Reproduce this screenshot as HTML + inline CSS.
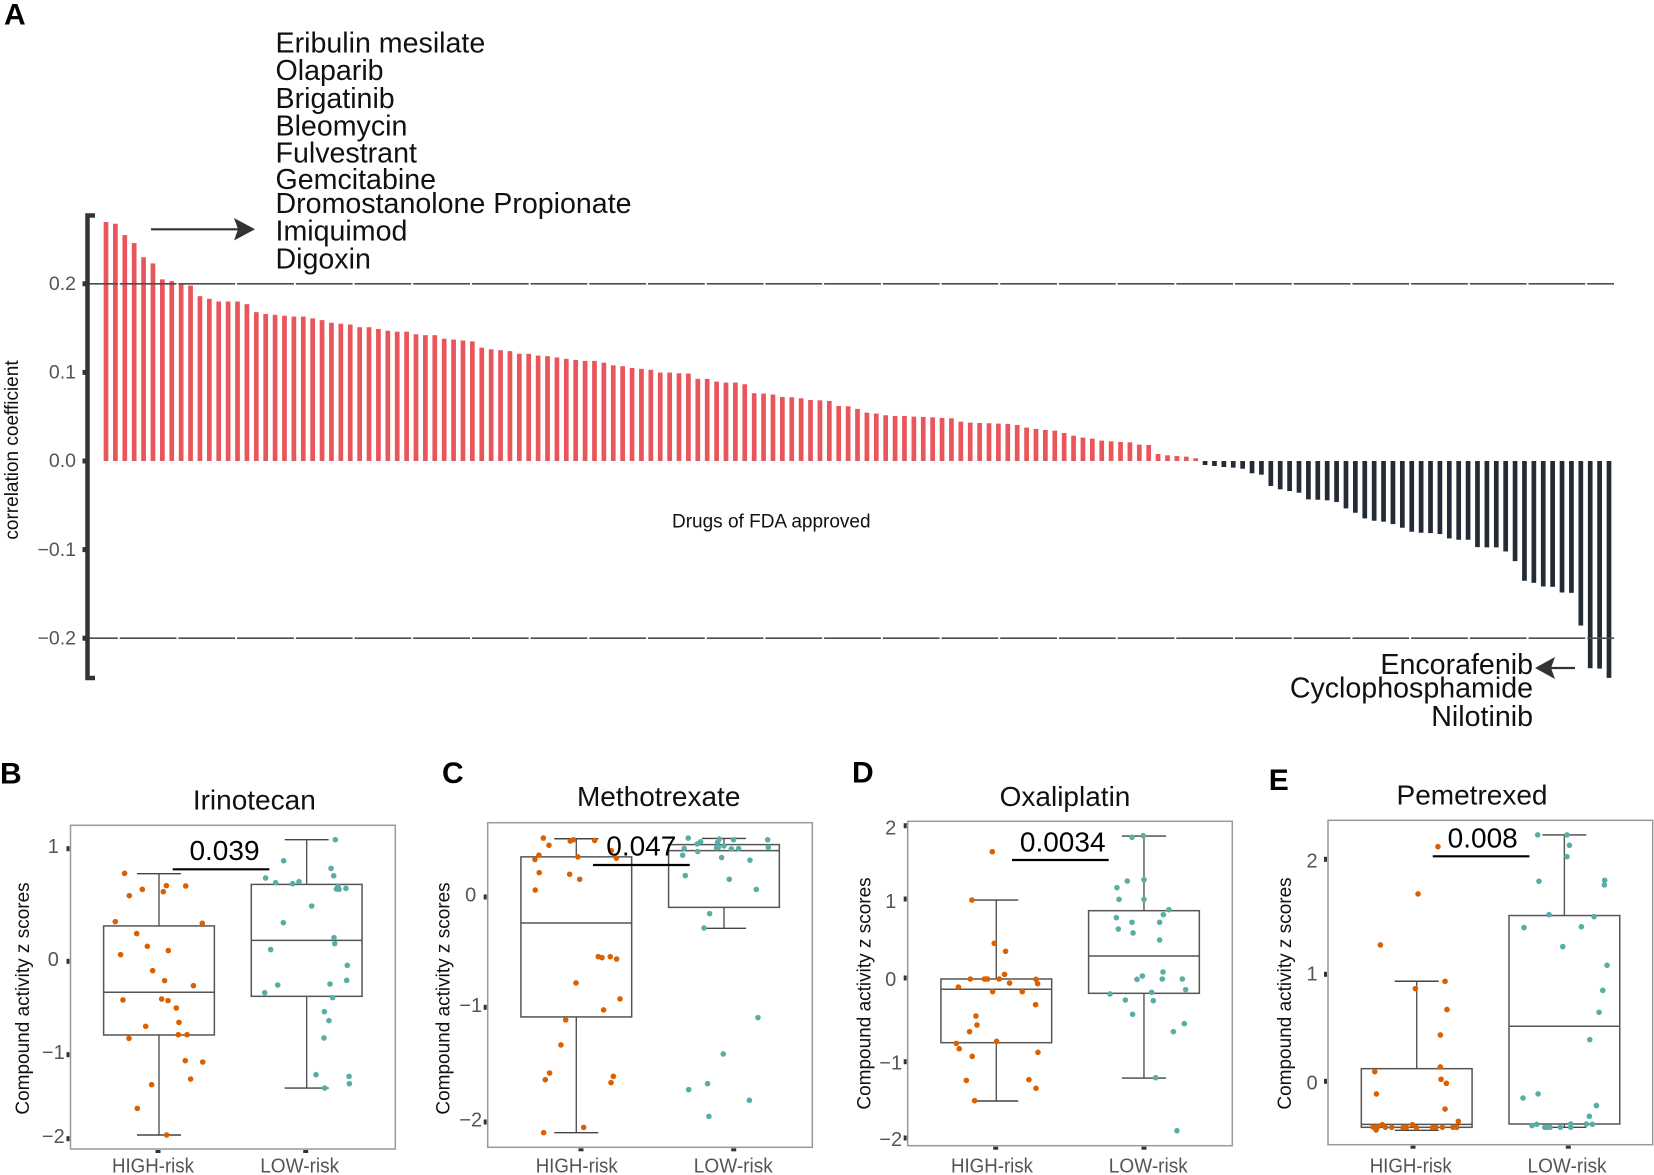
<!DOCTYPE html>
<html lang="en">
<head>
<meta charset="utf-8">
<title>Drug correlation and compound activity</title>
<style>
html,body{margin:0;padding:0;background:#fff;width:1654px;height:1175px;overflow:hidden}
svg{display:block;font-family:"Liberation Sans",sans-serif}
</style>
</head>
<body>
<svg id="figure" xmlns="http://www.w3.org/2000/svg" width="1654" height="1175" viewBox="0 0 1654 1175"></svg>
<script>
// ---------- Panel A data ----------
const positiveCorrelations = [.2697,.2678,.255,.246,.23,.223,.205,.203,.2,.198,.186,.183,.18,.18,.18,.177,.168,.166,.165,.164,.163,.163,.161,.159,.156,.155,.154,.151,.151,.149,.147,.146,.146,.143,.142,.142,.138,.137,.136,.135,.128,.126,.125,.124,.121,.121,.119,
.1183,.1168,.1153,.1141,.113,.113,.111,.108,.107,.105,.104,.103,.0998,.0998,.099,.0987,.0927,.0927,.0896,.0885,.0885,.0866,.0765,.0761,.075,.0723,.0719,.0708,.0689,.0685,.0678,.0621,.0618,.0588,.0546,.0535,.0516,.0508,.0508,.0501,.0497,.0493,.0486,.0482,.0444,.0433,.0429,.0426,.0422,.0418,.0407,.0377,.0362,.035,.0343,.0316,.0286,.0264,.0252,
.023,.0222,.0215,.0211,.0185,.0181,.0079,.0064,.0056,.0049,.003];
const negativeCorrelations = [-.0045,-.0056,-.0068,-.0075,-.0087,-.0139,-.0154,-.0282,-.032,-.0339,-.0358,-.0433,-.0437,-.0444,-.0463,-.0535,-.0584,-.0648,-.0674,-.0685,-.0712,-.0753,-.0798,-.081,-.0814,-.0825,-.0874,-.0889,-.0889,-.0972,-.0975,-.0975,-.1021,-.113,-.1352,-.1375,-.1416,-.142,-.1484,-.1488,-.1857,-.2339,-.2343,-.2448];
const correlationTicks = [0.2, 0.1, 0, -0.1, -0.2];
const referenceLevels = [0.2, -0.2];
const sensitiveDrugs = ["Eribulin mesilate","Olaparib","Brigatinib","Bleomycin","Fulvestrant","Gemcitabine","Dromostanolone Propionate","Imiquimod","Digoxin"];
const resistantDrugs = ["Encorafenib","Cyclophosphamide","Nilotinib"];

// ---------- Panels B-E data ----------
const riskGroups = ["HIGH-risk","LOW-risk"];

const irinotecanTicks = [1,0,-1,-2];
const irinotecanHighBox = [.778,.314,-.332,-.789,-1.956];
const irinotecanLowBox = [1.08,.683,.186,-.375,-1.397];
const irinotecanHighJitter = [-.233,.05,-.113,.181,-.201,.029,-.296,.293,-.151,-.079,.063,-.26,-.043,.038,.233,-.244,.018,.061,.117,.135,-.09,.131,.19,-.203,.178,.296,-.05,.214,-.147,.052];
const irinotecanHighScores = [.781,.672,.639,.669,.583,.618,.352,.337,.246,.133,.095,.059,-.1,-.207,-.261,-.414,-.404,-.421,-.5,-.654,-.696,-.786,-.786,-.825,-1.071,-1.087,-1.357,-1.29,-1.639,-1.956];
const irinotecanLowJitter = [.194,-.156,.165,.183,-.278,-.21,-.095,-.052,.212,.201,.219,.266,.034,-.158,.185,.19,-.244,.275,.271,.158,-.196,-.284,.176,.12,.151,.117,.063,.287,.289,.122];
const irinotecanLowScores = [1.08,.893,.825,.76,.74,.698,.689,.707,.663,.642,.639,.648,.491,.343,.21,.157,.104,-.043,-.204,-.243,-.254,-.336,-.389,-.539,-.636,-.821,-1.238,-1.258,-1.345,-1.397];

const methotrexateTicks = [0,-1,-2];
const methotrexateHighBox = [.528,.364,-.236,-1.084,-2.093];
const methotrexateLowBox = [.531,.475,.421,-.094,-.284];
const methotrexateHighJitter = [-.223,-.185,-.041,-.02,.124,-.253,-.28,.237,.271,.011,-.251,-.045,.023,-.278,.149,.174,.23,.273,-.002,.296,.185,-.072,-.104,-.181,-.21,.251,.235,.05,-.221];
const methotrexateHighScores = [.534,.469,.507,.519,.513,.379,.34,.421,.352,.364,.221,.206,.161,.063,-.541,-.55,-.541,-.562,-.779,-.924,-1.023,-1.11,-1.328,-1.573,-1.631,-1.602,-1.657,-2.047,-2.093];
const methotrexateLowJitter = [-.242,-.158,-.181,-.032,-.043,.065,.296,-.269,-.178,-.05,-.038,0,.05,.099,.3,-.28,-.016,.176,-.262,.036,.219,-.097,-.135,.23,-.005,-.111,-.239,.172,-.102];
const methotrexateLowScores = [.534,.501,.481,.525,.496,.519,.519,.439,.412,.445,.451,.463,.436,.439,.451,.379,.358,.334,.194,.161,.069,-.151,-.281,-1.09,-1.407,-1.666,-1.718,-1.811,-1.951];

const oxaliplatinTicks = [2,1,0,-1,-2];
const oxaliplatinHighBox = [.987,-.012,-.135,-.773,-1.515];
const oxaliplatinLowBox = [1.859,.852,.278,-.183,-1.214];
const oxaliplatinHighJitter = [-.027,-.165,-.014,.063,.056,-.176,-.081,-.07,-.059,.02,.269,.09,.28,-.257,-.025,.176,.266,-.138,-.131,-.181,.002,-.271,-.251,.282,-.163,-.203,.221,.269,-.147];
const oxaliplatinHighScores = [1.645,.987,.439,.338,.046,-.012,-.012,-.012,-.012,-.012,-.016,-.06,-.068,-.108,-.163,-.163,-.319,-.454,-.562,-.641,-.757,-.781,-.845,-.888,-.936,-1.245,-1.236,-1.349,-1.511];
const oxaliplatinLowJitter = [-.081,-.005,-.113,0,-.183,-.169,0,.169,.131,-.187,-.081,.106,-.174,-.074,.106,.129,-.011,-.047,.124,.26,.282,-.23,.052,-.126,.063,-.077,.273,.199,.079,.223];
const oxaliplatinLowScores = [1.841,1.864,1.245,1.264,1.155,.996,.996,.865,.802,.764,.705,.705,.62,.57,.481,.076,.025,-.016,-.012,-.012,-.139,-.191,-.171,-.263,-.271,-.434,-.546,-.641,-1.21,-1.904];

const pemetrexedTicks = [2,1,0];
const pemetrexedHighBox = [.935,.118,-.402,-.43,-.458];
const pemetrexedLowBox = [2.212,1.511,.514,-.399,-.43];
const pemetrexedHighJitter = [.144,.009,-.246,.192,-.009,.205,.16,.16,-.284,.165,.201,-.273,.192,.282,-.233,-.029,-.296,-.282,-.266,-.212,-.169,-.093,-.07,-.002,.108,.129,.174,.246,.271,-.275];
const pemetrexedHighScores = [2.11,1.699,1.255,.935,.866,.67,.433,.134,.09,.019,-.019,-.118,-.259,-.374,-.405,-.405,-.427,-.433,-.427,-.43,-.43,-.433,-.43,-.433,-.433,-.43,-.43,-.43,-.43,-.455];
const pemetrexedLowJitter = [-.181,.018,.034,.018,-.172,.273,.271,-.104,.201,-.273,.115,-.011,.289,.26,.235,.172,-.178,-.28,.217,.169,.149,.19,-.219,-.187,-.133,-.115,-.097,-.027,.043,.043];
const pemetrexedLowScores = [2.212,2.212,2.122,2.023,1.809,1.817,1.777,1.519,1.501,1.406,1.414,1.241,1.078,.85,.645,.389,-.118,-.156,-.227,-.327,-.399,-.402,-.414,-.402,-.43,-.43,-.43,-.43,-.399,-.43];

// ---------- Helpers ----------
const SVG_NS = "http://www.w3.org/2000/svg";
const figure = document.getElementById("figure");
function make(tag, name, attrs, parent, text) {
  const el = document.createElementNS(SVG_NS, tag);
  
  
  for (const key in attrs) el.setAttribute(key, attrs[key]);
  if (text !== undefined) el.textContent = text;
  (parent || figure).appendChild(el);
  return el;
}
function minusLabel(value, digits) {
  const s = Math.abs(value).toFixed(digits);
  return (value < 0 ? "\u2212" : "") + s;
}
function panelLetter(letter, x, y) {
  make("text", "panel-label-" + letter.toLowerCase(), {x:x, y:y, "font-size":30, "font-weight":"bold", fill:"#000"}, figure, letter);
}

// ---------- Panel A ----------
function drawPanelA() {
  const g = make("g", "correlation-bar-chart", {});
  const values = positiveCorrelations.concat(negativeCorrelations);
  const zeroY = 461, unit = 886, firstX = 106, step = 1503 / (values.length - 1), barW = 4.7;
  const yA = v => zeroY - v * unit;
  const xA = i => firstX + i * step;

  values.forEach((v, i) => {
    const y0 = yA(Math.max(v, 0)), y1 = yA(Math.min(v, 0));
    make("rect", v >= 0 ? "positive-correlation-bar" : "negative-correlation-bar", {
      x: xA(i) - barW / 2, y: y0, width: barW, height: y1 - y0, fill: v >= 0 ? "#e8555a" : "#232b36"
    }, g);
  });

  referenceLevels.forEach(level => {
    make("line", "reference-line", {
      x1: 87, x2: 1614, y1: yA(level), y2: yA(level),
      stroke: "#4d4d4d", "stroke-width": 1.6, "stroke-dasharray": "56.8 1.9", "stroke-dashoffset": 26
    }, g);
  });

  make("path", "y-axis-bracket", {
    d: "M95 215.5H87.5V678H95", fill: "none", stroke: "#333", "stroke-width": 4.5
  }, g);

  correlationTicks.forEach(t => {
    make("rect", "y-axis-tick", {x: 82.5, y: yA(t) - 2.5, width: 3, height: 5, fill: "#333"}, g);
    make("text", "y-tick-label", {x: 76, y: yA(t) + 6.2, "text-anchor": "end", "font-size": 19.5, fill: "#555"}, g, minusLabel(t, 1));
  });

  make("text", "y-axis-title", {
    transform: "translate(18 450) rotate(-90)", "text-anchor": "middle", "font-size": 19, fill: "#111"
  }, g, "correlation coefficient");

  make("text", "x-axis-title", {x: 672, y: 527.5, "font-size": 19, fill: "#111"}, g, "Drugs of FDA approved");

  const sensitiveBaselines = [52.7, 80, 107.8, 135.3, 162.7, 189, 212.8, 240.3, 268.5];
  sensitiveDrugs.forEach((name, i) => {
    make("text", "sensitive-drug-label", {x: 275.5, y: sensitiveBaselines[i], "font-size": 28.6, fill: "#111"}, g, name);
  });
  const resistantBaselines = [674, 697.5, 726];
  resistantDrugs.forEach((name, i) => {
    make("text", "resistant-drug-label", {x: 1533, y: resistantBaselines[i], "text-anchor": "end", "font-size": 28.6, fill: "#111"}, g, name);
  });

  make("line", "sensitive-arrow-shaft", {x1: 151, x2: 240, y1: 229.3, y2: 229.3, stroke: "#333", "stroke-width": 2.2}, g);
  make("path", "sensitive-arrow-head", {d: "M255 229.3L234 218L238 229.3L234 240.5Z", fill: "#333"}, g);
  make("line", "resistant-arrow-shaft", {x1: 1575, x2: 1545, y1: 668, y2: 668, stroke: "#333", "stroke-width": 2.2}, g);
  make("path", "resistant-arrow-head", {d: "M1535 668L1555 657L1551 668L1555 679Z", fill: "#333"}, g);
}

// ---------- Box panels ----------
function drawBoxPanel(o) {
  const g = make("g", o.id + "-panel", {});
  const spacing = 147.67;
  const xB = pos => o.xHigh + pos * spacing;
  function yB(v) {
    const t = o.ticks, p = o.tickY;
    let i = 0;
    while (i < t.length - 2 && v < t[i + 1]) i++;
    return p[i] + (v - t[i]) * (p[i + 1] - p[i]) / (t[i + 1] - t[i]);
  }

  make("rect", "plot-frame", {
    x: o.left, y: o.top, width: o.right - o.left, height: o.bottom - o.top,
    fill: "#fff", stroke: "#999", "stroke-width": 1.5
  }, g);

  o.ticks.forEach((t, i) => {
    make("rect", "y-axis-tick", {x: o.left - 4, y: yB(t) - 2.5, width: 3, height: 5, fill: "#333"}, g);
    make("text", "y-tick-label", {
      x: o.tickLabelX, y: yB(t) + o.tickLabelDy[i], "text-anchor": "middle", "font-size": 20, fill: "#555"
    }, g, minusLabel(t, 0));
  });

  riskGroups.forEach((label, i) => {
    make("rect", "x-axis-tick", {x: o.xTick[i] - 2.5, y: o.bottom + 1, width: 5, height: 3, fill: "#333"}, g);
    make("text", "x-tick-label", {
      x: o.xLabel[i], y: 1172.5, "text-anchor": "middle", "font-size": 20, fill: "#555",
      textLength: i === 0 ? 82 : 79, lengthAdjust: "spacingAndGlyphs"
    }, g, label);
  });

  make("text", "y-axis-title", {
    transform: "translate(" + o.yTitleX + " " + o.yTitleY + ") rotate(-90)",
    "text-anchor": "middle", "font-size": 19, fill: "#111"
  }, g, "Compound activity z scores");

  make("text", "panel-title", {x: o.titleX, y: o.titleY, "text-anchor": "middle", "font-size": 28, fill: "#111"}, g, o.title);

  [[o.highBox, 0, o.highJitter, o.highScores, "#dc6000", "high-risk"],
   [o.lowBox, 1, o.lowJitter, o.lowScores, "#58aea6", "low-risk"]].forEach(series => {
    const box = series[0], pos = series[1], jitter = series[2], scores = series[3], color = series[4], tag = series[5];
    const cx = xB(pos), half = 0.375 * spacing, cap = 0.149 * spacing;
    make("line", tag + "-whisker-upper", {x1: cx, x2: cx, y1: yB(box[0]), y2: yB(box[1]), stroke: "#555", "stroke-width": 1.4}, g);
    make("line", tag + "-whisker-lower", {x1: cx, x2: cx, y1: yB(box[3]), y2: yB(box[4]), stroke: "#555", "stroke-width": 1.4}, g);
    make("line", tag + "-cap-upper", {x1: cx - cap, x2: cx + cap, y1: yB(box[0]), y2: yB(box[0]), stroke: "#444", "stroke-width": 1.4}, g);
    make("line", tag + "-cap-lower", {x1: cx - cap, x2: cx + cap, y1: yB(box[4]), y2: yB(box[4]), stroke: "#444", "stroke-width": 1.4}, g);
    make("rect", tag + "-box", {
      x: cx - half, y: yB(box[1]), width: half * 2, height: yB(box[3]) - yB(box[1]),
      fill: "none", stroke: "#555", "stroke-width": 1.5
    }, g);
    make("line", tag + "-median", {x1: cx - half, x2: cx + half, y1: yB(box[2]), y2: yB(box[2]), stroke: "#555", "stroke-width": 1.5}, g);
    scores.forEach((score, i) => {
      make("circle", tag + "-point", {cx: xB(pos + jitter[i]), cy: yB(score), r: 2.8, fill: color}, g);
    });
  });

  make("line", "significance-bar", {
    x1: o.sigX1, x2: o.sigX1 + 96.7, y1: o.sigY, y2: o.sigY, stroke: "#000", "stroke-width": 2.2
  }, g);
  make("text", "p-value-label", {
    x: o.sigTextX, y: o.sigTextY, "text-anchor": "middle", "font-size": 28, fill: "#000"
  }, g, o.pValue);
}

drawPanelA();
panelLetter("A", 4, 24.3);
panelLetter("B", 0, 783.3);
panelLetter("C", 442, 783);
panelLetter("D", 852, 782.7);
panelLetter("E", 1268.7, 790);

drawBoxPanel({
  id: "irinotecan", title: "Irinotecan", pValue: "0.039",
  ticks: irinotecanTicks, highBox: irinotecanHighBox, lowBox: irinotecanLowBox,
  highJitter: irinotecanHighJitter, highScores: irinotecanHighScores,
  lowJitter: irinotecanLowJitter, lowScores: irinotecanLowScores,
  left: 70.5, right: 395.3, top: 825.3, bottom: 1149,
  tickY: [848.7, 961.3, 1054.7, 1138.7], tickLabelX: 53.3, tickLabelDy: [4.5, 4.5, 4.5, 4.5],
  xHigh: 159, xTick: [158, 305.7], xLabel: [153, 299.7],
  yTitleX: 29, yTitleY: 998.5, titleX: 254.3, titleY: 809.3,
  sigX1: 172.7, sigY: 869.3, sigTextX: 224.5, sigTextY: 860
});
drawBoxPanel({
  id: "methotrexate", title: "Methotrexate", pValue: "0.047",
  ticks: methotrexateTicks, highBox: methotrexateHighBox, lowBox: methotrexateLowBox,
  highJitter: methotrexateHighJitter, highScores: methotrexateHighScores,
  lowJitter: methotrexateLowJitter, lowScores: methotrexateLowScores,
  left: 487.7, right: 812.3, top: 822.7, bottom: 1147.3,
  tickY: [897, 1007.3, 1122], tickLabelX: 470.7, tickLabelDy: [4.5, 4.5, 4.5],
  xHigh: 576.3, xTick: [581, 733.7], xLabel: [576.7, 733.3],
  yTitleX: 449.5, yTitleY: 998.5, titleX: 658.7, titleY: 806,
  sigX1: 593, sigY: 865, sigTextX: 641.3, sigTextY: 855.3
});
drawBoxPanel({
  id: "oxaliplatin", title: "Oxaliplatin", pValue: "0.0034",
  ticks: oxaliplatinTicks, highBox: oxaliplatinHighBox, lowBox: oxaliplatinLowBox,
  highJitter: oxaliplatinHighJitter, highScores: oxaliplatinHighScores,
  lowJitter: oxaliplatinLowJitter, lowScores: oxaliplatinLowScores,
  left: 907.7, right: 1232.3, top: 821.3, bottom: 1145.7,
  tickY: [825.7, 899, 978, 1061.7, 1138], tickLabelX: 890.7, tickLabelDy: [9, 9, 8, 8, 8],
  xHigh: 996.3, xTick: [995.7, 1144], xLabel: [992, 1148.3],
  yTitleX: 870.5, yTitleY: 993.5, titleX: 1065, titleY: 806,
  sigX1: 1012, sigY: 860, sigTextX: 1062.7, sigTextY: 851.7
});
drawBoxPanel({
  id: "pemetrexed", title: "Pemetrexed", pValue: "0.008",
  ticks: pemetrexedTicks, highBox: pemetrexedHighBox, lowBox: pemetrexedLowBox,
  highJitter: pemetrexedHighJitter, highScores: pemetrexedHighScores,
  lowJitter: pemetrexedLowJitter, lowScores: pemetrexedLowScores,
  left: 1328, right: 1652.7, top: 820.3, bottom: 1144.7,
  tickY: [859.3, 974.3, 1081.3], tickLabelX: 1312, tickLabelDy: [8, 6, 8],
  xHigh: 1416.7, xTick: [1413, 1568.3], xLabel: [1410.7, 1567],
  yTitleX: 1291, yTitleY: 993.5, titleX: 1472, titleY: 804.7,
  sigX1: 1432.7, sigY: 856.3, sigTextX: 1482.7, sigTextY: 847.7
});
</script>
</body>
</html>
